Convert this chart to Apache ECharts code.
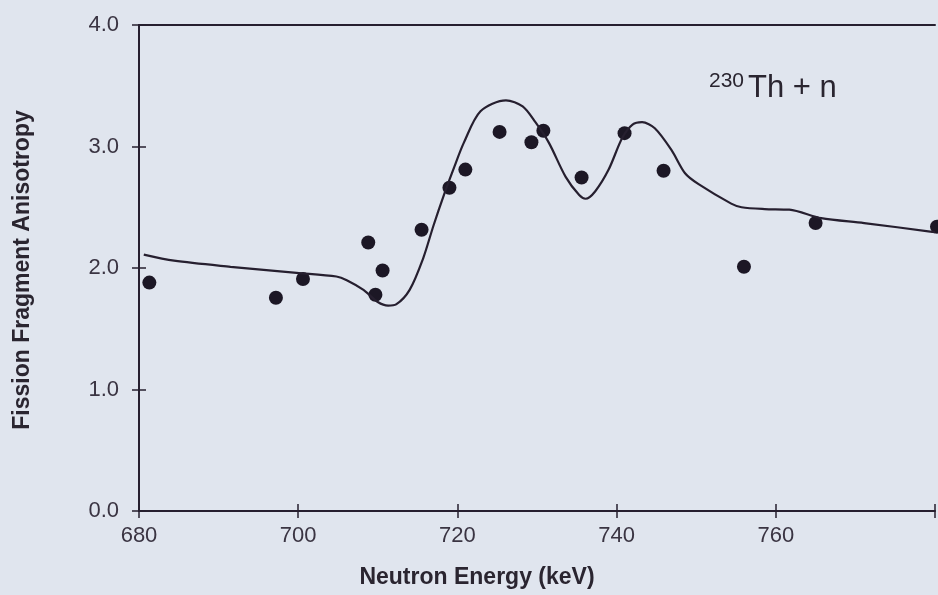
<!DOCTYPE html>
<html>
<head>
<meta charset="utf-8">
<script src="https://cdn.jsdelivr.net/npm/echarts@6/dist/echarts.min.js"></script>
<style>
html,body{margin:0;padding:0;background:#e0e5ee;}
#chart{width:938px;height:595px;}
</style>
</head>
<body>
<div id="chart"></div>
<script>
// Measured data points (neutron energy keV, anisotropy)
const pointEnergy = [681.3, 697.2, 700.6, 708.8, 709.7, 710.6, 715.5, 719.0, 721.0, 725.3, 729.3, 730.8, 735.6, 741.0, 745.9, 756.0, 765.0, 780.25];
const pointAniso  = [1.88, 1.755, 1.91, 2.21, 1.78, 1.98, 2.315, 2.66, 2.81, 3.12, 3.035, 3.13, 2.745, 3.11, 2.80, 2.01, 2.37, 2.34];

// Calculated curve
const curveEnergy = [680.6, 684.4, 691.5, 699.8, 704.8, 706.1, 708.2, 710.0, 711.3, 712.3, 714.0, 715.7, 717.0, 718.3, 719.6, 720.8, 722.9, 726.1, 728.2, 729.8, 731.5, 733.6, 735.3, 736.1, 737.3, 739.0, 740.7, 742.0, 743.2, 744.8, 746.9, 748.6, 750.3, 754.4, 755.7, 758.6, 761.7, 765.7, 771.1, 779.4, 780.0];
const curveAniso  = [2.11, 2.06, 2.01, 1.96, 1.93, 1.90, 1.82, 1.72, 1.69, 1.70, 1.82, 2.08, 2.35, 2.60, 2.83, 3.03, 3.29, 3.38, 3.33, 3.20, 3.03, 2.75, 2.60, 2.57, 2.63, 2.81, 3.07, 3.18, 3.20, 3.15, 2.97, 2.78, 2.69, 2.53, 2.50, 2.485, 2.48, 2.41, 2.37, 2.30, 2.295];

const xMin = 680, xMax = 780, xStep = 20;
const yMin = 0, yMax = 4, yStep = 1;
const hiddenXLabels = [780];

const xTitle = 'Neutron Energy (keV)';
const yTitle = 'Fission Fragment Anisotropy';
const isotopeSup = '230';
const reactionText = 'Th + n';

const ink = '#261f2f';
const font = '"Liberation Sans", Arial, Helvetica, sans-serif';

const chart = echarts.init(document.getElementById('chart'), null, {renderer: 'canvas'});

const points = pointEnergy.map((e, i) => [e, pointAniso[i]]);
const curve = curveEnergy.map((e, i) => [e, curveAniso[i]]);

chart.setOption({
  backgroundColor: '#e0e5ee',
  animation: false,
  grid: {left: 139, right: 0, top: 25, bottom: 84, containLabel: false},
  xAxis: [
    {
      type: 'value', min: xMin, max: xMax, interval: xStep, position: 'bottom',
      axisLine: {show: true, lineStyle: {color: ink, width: 2}},
      axisTick: {show: true, inside: false, length: 7, lineStyle: {color: ink, width: 1.5}},
      axisLabel: {
        color: '#3a3442', fontSize: 22, fontFamily: font, margin: 14,
        formatter: v => hiddenXLabels.includes(v) ? '' : String(v)
      },
      splitLine: {show: false}
    },
    {
      type: 'value', min: xMin, max: xMax, interval: xStep, position: 'bottom', offset: 0,
      axisLine: {show: false},
      axisTick: {show: true, inside: true, length: 7, lineStyle: {color: ink, width: 1.5}},
      axisLabel: {show: false},
      splitLine: {show: false}
    },
    {
      type: 'value', min: xMin, max: xMax, position: 'top',
      axisLine: {show: true, lineStyle: {color: ink, width: 2}},
      axisTick: {show: false}, axisLabel: {show: false}, splitLine: {show: false}
    }
  ],
  yAxis: [
    {
      type: 'value', min: yMin, max: yMax, interval: yStep, position: 'left',
      axisLine: {show: true, lineStyle: {color: ink, width: 2}},
      axisTick: {show: true, inside: false, length: 7, lineStyle: {color: ink, width: 1.5}},
      axisLabel: {
        color: '#3a3442', fontSize: 22, fontFamily: font, margin: 20,
        formatter: v => v.toFixed(1)
      },
      splitLine: {show: false}
    },
    {
      type: 'value', min: yMin, max: yMax, interval: yStep, position: 'left', offset: 0,
      axisLine: {show: false},
      axisTick: {show: true, inside: true, length: 7, lineStyle: {color: ink, width: 1.5}},
      axisLabel: {show: false},
      splitLine: {show: false}
    }
  ],
  series: [
    {
      type: 'line', data: curve, xAxisIndex: 0, yAxisIndex: 0,
      showSymbol: false, smooth: 0.3, clip: true,
      lineStyle: {color: ink, width: 2.2}
    },
    {
      type: 'scatter', data: points, xAxisIndex: 0, yAxisIndex: 0,
      symbol: 'circle', symbolSize: 14, clip: false,
      itemStyle: {color: '#1c1725', opacity: 1}
    }
  ],
  graphic: [
    {
      type: 'text', x: 477, y: 578,
      style: {text: xTitle, font: 'bold 23px ' + font, fill: '#2a2530', align: 'center', verticalAlign: 'middle'}
    },
    {
      type: 'text', x: 23, y: 270, rotation: Math.PI / 2,
      style: {text: yTitle, font: 'bold 23px ' + font, fill: '#2a2530', align: 'center', verticalAlign: 'middle'}
    },
    {
      type: 'text', x: 709, y: 81,
      style: {text: isotopeSup, font: '21px ' + font, fill: '#2a2530', align: 'left', verticalAlign: 'middle'}
    },
    {
      type: 'text', x: 748, y: 88,
      style: {text: reactionText, font: '31px ' + font, fill: '#2a2530', align: 'left', verticalAlign: 'middle'}
    }
  ]
});
</script>
</body>
</html>
